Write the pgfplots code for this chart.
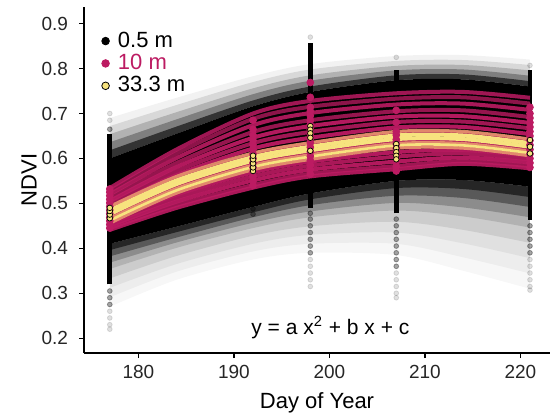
\documentclass[border=0pt]{standalone}
\usepackage{fontspec}
\setmainfont{Liberation Sans}
\usepackage{pgfplots}
\usepackage{pgfplotstable}
\pgfplotsset{compat=1.18}
\usepgfplotslibrary{fillbetween}
\definecolor{mag}{HTML}{BC1B62}
\definecolor{yel}{HTML}{F7E37E}
\definecolor{sal}{HTML}{E8956E}

% envelopes of the 0.5 m fits: upper fade (u..), core (ut-bb), lower fade (l..)
\pgfplotstableread{
day u100  u80   u60   u40   u20   ut    bb    l10   l20   l30   l40   l55   l70   l85   l100
177 0.690 0.672 0.654 0.636 0.618 0.600 0.410 0.396 0.382 0.368 0.354 0.333 0.312 0.291 0.270
184 0.735 0.719 0.703 0.687 0.671 0.655 0.448 0.436 0.424 0.413 0.401 0.383 0.365 0.348 0.330
192 0.783 0.770 0.756 0.743 0.729 0.716 0.492 0.480 0.469 0.457 0.445 0.428 0.410 0.393 0.375
198 0.810 0.798 0.785 0.773 0.760 0.748 0.522 0.509 0.496 0.482 0.469 0.449 0.430 0.410 0.390
207 0.828 0.817 0.806 0.796 0.785 0.774 0.550 0.534 0.517 0.501 0.484 0.459 0.435 0.410 0.385
214 0.830 0.819 0.808 0.798 0.787 0.776 0.552 0.532 0.512 0.491 0.471 0.441 0.411 0.380 0.350
221 0.820 0.808 0.796 0.784 0.772 0.760 0.537 0.514 0.492 0.469 0.446 0.412 0.378 0.344 0.310
}\blktab

% 10 m fits
\pgfplotstableread{
day m1    m2    m3    m4    m5    m6    m7    m8    m9    m10   m11   m12   m13   m14   m15
177 0.534 0.527 0.520 0.512 0.505 0.498 0.491 0.485 0.472 0.467 0.461 0.456 0.450 0.445 0.441
184 0.620 0.611 0.601 0.590 0.581 0.572 0.563 0.554 0.537 0.529 0.520 0.512 0.504 0.496 0.490
192 0.700 0.688 0.674 0.659 0.646 0.634 0.622 0.609 0.588 0.578 0.569 0.560 0.551 0.541 0.535
198 0.728 0.715 0.701 0.685 0.672 0.659 0.646 0.633 0.611 0.602 0.593 0.584 0.575 0.566 0.560
207 0.745 0.733 0.720 0.705 0.693 0.681 0.669 0.657 0.635 0.624 0.614 0.604 0.593 0.583 0.576
214 0.748 0.736 0.722 0.707 0.694 0.682 0.670 0.657 0.636 0.628 0.619 0.611 0.602 0.594 0.588
221 0.735 0.722 0.708 0.692 0.679 0.667 0.654 0.641 0.621 0.613 0.606 0.598 0.591 0.583 0.578
}\magtab

% coarser scales up to 33.3 m
\pgfplotstableread{
day s1    s2    s3    y1    y2    y3
177 0.493 0.466 0.456 0.484 0.476 0.462
184 0.560 0.533 0.523 0.551 0.543 0.529
192 0.612 0.585 0.575 0.603 0.595 0.581
198 0.635 0.608 0.598 0.626 0.618 0.604
207 0.660 0.633 0.623 0.651 0.643 0.629
214 0.660 0.633 0.623 0.651 0.643 0.629
221 0.643 0.616 0.606 0.634 0.626 0.612
}\yltab

\begin{document}
\begin{tikzpicture}
\begin{axis}[
  scale only axis, width=233pt, height=173pt,
  xmin=174.3, xmax=223.1, ymin=0.167, ymax=0.937,
  axis x line*=bottom, axis y line*=left,
  axis line style={line width=0.75pt, black},
  tick align=outside, major tick length=2.5pt,
  tick style={line width=0.6pt, black},
  xtick={180,190,200,210,220},
  xticklabels={180,190,200,210,220},
  ytick={0.2,0.3,0.4,0.5,0.6,0.7,0.8,0.9},
  yticklabels={0.2,0.3,0.4,0.5,0.6,0.7,0.8,0.9},
  tick label style={font=\fontsize{9.5}{11}\selectfont, text=black!85},
  yticklabel style={xshift=-2pt},
  xlabel={Day of Year}, ylabel={NDVI},
  label style={font=\fontsize{11}{13}\selectfont},
  xlabel style={at={(axis description cs:0.5,0)}, anchor=center, yshift=-25pt},
  ylabel style={at={(axis description cs:-0.118,0.5)}, anchor=center},
  legend style={at={(rel axis cs:0.036,0.935)}, anchor=north west, draw=none,
    fill=none, inner sep=0pt, row sep=0pt, font=\fontsize{11}{13}\selectfont,
    nodes={inner sep=1pt}},
  legend cell align=left,
  legend image code/.code={\draw[#1] plot coordinates {(0pt,0pt)}; \path (-2pt,0pt) (5pt,0pt);},
]
\addlegendimage{only marks, mark=*, mark size=1.9pt, black}
\addlegendentry{0.5 m}
\addlegendimage{only marks, mark=*, mark size=1.9pt, mag}
\addlegendentry{\textcolor{mag}{10 m}}
\addlegendimage{only marks, mark=*, mark size=1.9pt, mark options={draw=black, fill=yel, line width=0.4pt}}
\addlegendentry{33.3 m}

% 0.5 m: envelopes
\addplot[draw=none, smooth, forget plot, name path=u100] table[y=u100]{\blktab};
\addplot[draw=none, smooth, forget plot, name path=u80] table[y=u80]{\blktab};
\addplot[draw=none, smooth, forget plot, name path=u60] table[y=u60]{\blktab};
\addplot[draw=none, smooth, forget plot, name path=u40] table[y=u40]{\blktab};
\addplot[draw=none, smooth, forget plot, name path=u20] table[y=u20]{\blktab};
\addplot[draw=none, smooth, forget plot, name path=ut] table[y=ut]{\blktab};
\addplot[draw=none, smooth, forget plot, name path=bb] table[y=bb]{\blktab};
\addplot[draw=none, smooth, forget plot, name path=l10] table[y=l10]{\blktab};
\addplot[draw=none, smooth, forget plot, name path=l20] table[y=l20]{\blktab};
\addplot[draw=none, smooth, forget plot, name path=l30] table[y=l30]{\blktab};
\addplot[draw=none, smooth, forget plot, name path=l40] table[y=l40]{\blktab};
\addplot[draw=none, smooth, forget plot, name path=l55] table[y=l55]{\blktab};
\addplot[draw=none, smooth, forget plot, name path=l70] table[y=l70]{\blktab};
\addplot[draw=none, smooth, forget plot, name path=l85] table[y=l85]{\blktab};
\addplot[draw=none, smooth, forget plot, name path=l100] table[y=l100]{\blktab};
\addplot[black, fill opacity=0.05, forget plot] fill between[of=u100 and ut];
\addplot[black, fill opacity=0.105, forget plot] fill between[of=u80 and ut];
\addplot[black, fill opacity=0.176, forget plot] fill between[of=u60 and ut];
\addplot[black, fill opacity=0.286, forget plot] fill between[of=u40 and ut];
\addplot[black, fill opacity=0.6, forget plot] fill between[of=u20 and ut];
\addplot[black, fill opacity=1, forget plot] fill between[of=ut and bb];
\addplot[black, fill opacity=0.03, forget plot] fill between[of=bb and l100];
\addplot[black, fill opacity=0.041, forget plot] fill between[of=bb and l85];
\addplot[black, fill opacity=0.054, forget plot] fill between[of=bb and l70];
\addplot[black, fill opacity=0.091, forget plot] fill between[of=bb and l55];
\addplot[black, fill opacity=0.125, forget plot] fill between[of=bb and l40];
\addplot[black, fill opacity=0.214, forget plot] fill between[of=bb and l30];
\addplot[black, fill opacity=0.364, forget plot] fill between[of=bb and l20];
\addplot[black, fill opacity=0.571, forget plot] fill between[of=bb and l10];

% 0.5 m: observations
\addplot[black, line width=2.4pt, forget plot] coordinates {(177,0.320) (177,0.655)};
\addplot[black, line width=2.4pt, forget plot] coordinates {(192,0.500) (192,0.700)};
\addplot[black, line width=2.4pt, forget plot] coordinates {(198,0.490) (198,0.856)};
\addplot[black, line width=2.4pt, forget plot] coordinates {(207,0.478) (207,0.796)};
\addplot[black, line width=2.4pt, forget plot] coordinates {(221,0.463) (221,0.796)};
\addplot[only marks, mark=*, mark size=1.2pt, black, opacity=0.35, forget plot] coordinates {
  (177,0.305) (177,0.290) (177,0.275) (177,0.665)
  (192,0.488) (192,0.476)
  (198,0.478) (198,0.465) (198,0.450) (198,0.435) (198,0.420) (198,0.405) (198,0.390)
  (207,0.465) (207,0.450) (207,0.435) (207,0.420) (207,0.405) (207,0.390) (207,0.375) (207,0.360)
  (221,0.450) (221,0.435) (221,0.420) (221,0.405) (221,0.390)};
\addplot[only marks, mark=*, mark size=1.2pt, black, opacity=0.12, forget plot] coordinates {
  (177,0.700) (177,0.685) (177,0.260) (177,0.245) (177,0.230) (177,0.220)
  (198,0.870) (198,0.375) (198,0.360) (198,0.345) (198,0.330) (198,0.315)
  (207,0.825) (207,0.345) (207,0.330) (207,0.315) (207,0.300) (207,0.290)
  (221,0.807) (221,0.375) (221,0.360) (221,0.345) (221,0.330) (221,0.315) (221,0.307)};

% 10 m: fits
\addplot[mag, line width=2pt, opacity=0.85, smooth, forget plot] table[y=m1]{\magtab};
\addplot[mag, line width=2pt, opacity=0.75, smooth, forget plot] table[y=m2]{\magtab};
\addplot[mag, line width=2pt, opacity=0.90, smooth, forget plot] table[y=m3]{\magtab};
\addplot[mag, line width=2pt, opacity=0.80, smooth, forget plot] table[y=m4]{\magtab};
\addplot[mag, line width=2pt, opacity=0.95, smooth, forget plot] table[y=m5]{\magtab};
\addplot[mag, line width=2pt, opacity=0.85, smooth, forget plot] table[y=m6]{\magtab};
\addplot[mag, line width=2pt, opacity=0.95, smooth, forget plot] table[y=m7]{\magtab};
\addplot[mag, line width=2pt, opacity=0.90, smooth, forget plot] table[y=m8]{\magtab};
\addplot[mag, line width=2pt, opacity=0.95, smooth, forget plot] table[y=m9]{\magtab};
\addplot[mag, line width=2pt, opacity=0.90, smooth, forget plot] table[y=m10]{\magtab};
\addplot[mag, line width=2pt, opacity=0.95, smooth, forget plot] table[y=m11]{\magtab};
\addplot[mag, line width=2pt, opacity=0.90, smooth, forget plot] table[y=m12]{\magtab};
\addplot[mag, line width=2pt, opacity=0.95, smooth, forget plot] table[y=m13]{\magtab};
\addplot[mag, line width=2pt, opacity=0.85, smooth, forget plot] table[y=m14]{\magtab};
\addplot[mag, line width=2pt, opacity=0.90, smooth, forget plot] table[y=m15]{\magtab};
% 10 m: observations
\addplot[only marks, mark=*, mark size=1.7pt, mag, forget plot] coordinates {
  (177,0.445) (177,0.453) (177,0.461) (177,0.469) (177,0.477) (177,0.485)
  (177,0.493) (177,0.501) (177,0.509) (177,0.517) (177,0.525) (177,0.532)
  (192,0.540) (192,0.550) (192,0.560) (192,0.570) (192,0.580) (192,0.590) (192,0.600)
  (192,0.610) (192,0.620) (192,0.630) (192,0.640) (192,0.652) (192,0.665) (192,0.685)
  (198,0.565) (198,0.575) (198,0.585) (198,0.595) (198,0.605) (198,0.615) (198,0.625)
  (198,0.635) (198,0.645) (198,0.655) (198,0.665) (198,0.675) (198,0.685) (198,0.695)
  (198,0.705) (198,0.714) (198,0.736) (198,0.769)
  (207,0.572) (207,0.582) (207,0.592) (207,0.602) (207,0.612) (207,0.622) (207,0.632)
  (207,0.642) (207,0.652) (207,0.660) (207,0.680) (207,0.707)
  (221,0.580) (221,0.590) (221,0.600) (221,0.610) (221,0.620) (221,0.630) (221,0.640)
  (221,0.650) (221,0.660) (221,0.670) (221,0.680) (221,0.690) (221,0.700) (221,0.714)};

% intermediate and 33.3 m fits
\addplot[sal, line width=1.6pt, opacity=0.9, smooth, forget plot] table[y=s1]{\yltab};
\addplot[sal, line width=1.6pt, opacity=0.9, smooth, forget plot] table[y=s2]{\yltab};
\addplot[sal, line width=1.6pt, opacity=0.9, smooth, forget plot] table[y=s3]{\yltab};
\addplot[yel, line width=2pt, smooth, forget plot] table[y=y1]{\yltab};
\addplot[yel, line width=2pt, smooth, forget plot] table[y=y2]{\yltab};
\addplot[yel, line width=1.3pt, smooth, forget plot] table[y=y3]{\yltab};
% 33.3 m: observations
\addplot[only marks, mark=*, mark size=1.4pt, mark options={draw=black, fill=yel, line width=0.35pt}, forget plot] coordinates {
  (177,0.467) (177,0.475) (177,0.483) (177,0.490)
  (192,0.572) (192,0.580) (192,0.589) (192,0.598) (192,0.606)
  (198,0.672) (198,0.664) (198,0.656) (198,0.646) (198,0.617)
  (207,0.632) (207,0.623) (207,0.614) (207,0.606) (207,0.598)
  (221,0.641) (221,0.626) (221,0.611)};

\node[font=\fontsize{10.5}{12}\selectfont] at (axis cs:200.1,0.223) {y = a x\textsuperscript{2} + b x + c};
\end{axis}
\pgfresetboundingbox
\useasboundingbox (-42pt,-32.5pt) rectangle (233pt,176.5pt);
\end{tikzpicture}
\end{document}
